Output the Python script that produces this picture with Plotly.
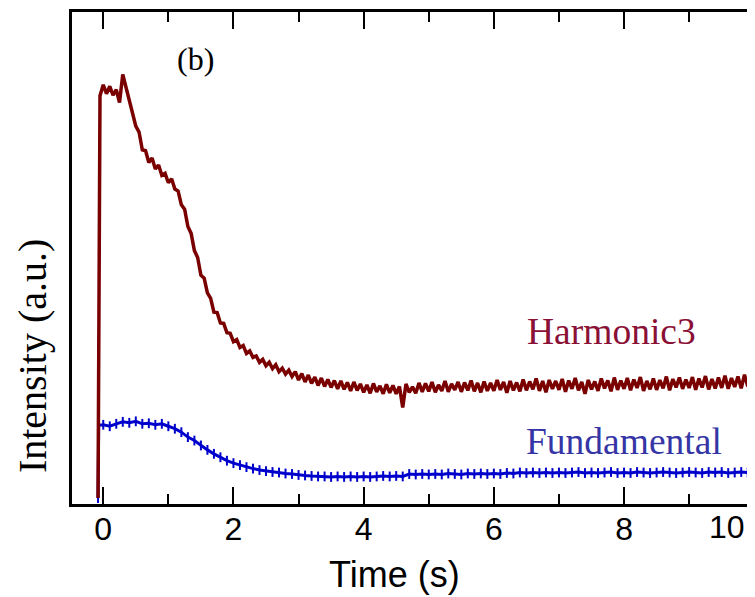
import plotly.graph_objects as go

# ---------------- data ----------------
# Harmonic3: onset point, then samples every 0.05 s from -0.05 to 9.95 s
harm_t = [-0.08,
    -0.05, 0.00, 0.05, 0.10, 0.15, 0.20, 0.25, 0.30, 0.35, 0.40,
    0.45, 0.50, 0.55, 0.60, 0.65, 0.70, 0.75, 0.80, 0.85, 0.90,
    0.95, 1.00, 1.05, 1.10, 1.15, 1.20, 1.25, 1.30, 1.35, 1.40,
    1.45, 1.50, 1.55, 1.60, 1.65, 1.70, 1.75, 1.80, 1.85, 1.90,
    1.95, 2.00, 2.05, 2.10, 2.15, 2.20, 2.25, 2.30, 2.35, 2.40,
    2.45, 2.50, 2.55, 2.60, 2.65, 2.70, 2.75, 2.80, 2.85, 2.90,
    2.95, 3.00, 3.05, 3.10, 3.15, 3.20, 3.25, 3.30, 3.35, 3.40,
    3.45, 3.50, 3.55, 3.60, 3.65, 3.70, 3.75, 3.80, 3.85, 3.90,
    3.95, 4.00, 4.05, 4.10, 4.15, 4.20, 4.25, 4.30, 4.35, 4.40,
    4.45, 4.50, 4.55, 4.60, 4.65, 4.70, 4.75, 4.80, 4.85, 4.90,
    4.95, 5.00, 5.05, 5.10, 5.15, 5.20, 5.25, 5.30, 5.35, 5.40,
    5.45, 5.50, 5.55, 5.60, 5.65, 5.70, 5.75, 5.80, 5.85, 5.90,
    5.95, 6.00, 6.05, 6.10, 6.15, 6.20, 6.25, 6.30, 6.35, 6.40,
    6.45, 6.50, 6.55, 6.60, 6.65, 6.70, 6.75, 6.80, 6.85, 6.90,
    6.95, 7.00, 7.05, 7.10, 7.15, 7.20, 7.25, 7.30, 7.35, 7.40,
    7.45, 7.50, 7.55, 7.60, 7.65, 7.70, 7.75, 7.80, 7.85, 7.90,
    7.95, 8.00, 8.05, 8.10, 8.15, 8.20, 8.25, 8.30, 8.35, 8.40,
    8.45, 8.50, 8.55, 8.60, 8.65, 8.70, 8.75, 8.80, 8.85, 8.90,
    8.95, 9.00, 9.05, 9.10, 9.15, 9.20, 9.25, 9.30, 9.35, 9.40,
    9.45, 9.50, 9.55, 9.60, 9.65, 9.70, 9.75, 9.80, 9.85, 9.90,
    9.95]
harm_y = [1.2,
    83.0, 85.2, 83.4, 84.9, 83.1, 84.2, 81.6, 87.3, 84.6, 82.3,
    79.9, 76.8, 75.6, 72.0, 71.8, 69.4, 70.3, 68.1, 68.9, 66.8,
    67.2, 65.3, 66.1, 64.0, 63.6, 60.8, 59.9, 56.4, 55.0, 51.5,
    50.1, 46.5, 45.9, 42.9, 41.8, 39.0, 38.9, 36.8, 36.7, 34.8,
    34.7, 33.0, 33.4, 31.8, 32.2, 30.6, 31.1, 29.8, 30.1, 28.8,
    29.4, 28.1, 28.8, 27.5, 28.3, 26.9, 27.6, 26.4, 27.2, 25.9,
    26.9, 25.2, 26.5, 24.8, 26.2, 24.5, 25.8, 24.1, 25.6, 23.9,
    25.3, 23.7, 25.1, 23.4, 25.0, 23.3, 24.7, 23.0, 24.8, 23.1,
    24.4, 22.7, 24.2, 22.5, 24.5, 22.8, 24.0, 22.4, 24.3, 22.6,
    24.1, 22.4, 23.9, 19.6, 24.4, 22.7, 23.8, 22.5, 24.6, 22.8,
    24.5, 22.9, 24.8, 22.7, 24.2, 23.0, 25.0, 22.8, 24.4, 23.2,
    24.8, 22.8, 24.7, 23.1, 25.1, 22.9, 24.6, 22.7, 24.9, 23.0,
    24.6, 23.0, 25.2, 23.2, 24.8, 22.6, 25.0, 23.1, 24.7, 22.9,
    25.3, 23.1, 24.9, 23.3, 25.5, 23.0, 25.0, 22.7, 25.2, 23.4,
    25.0, 23.2, 25.4, 22.8, 25.1, 23.4, 25.6, 23.1, 24.8, 22.4,
    25.2, 23.3, 24.9, 23.0, 25.5, 23.5, 25.1, 22.9, 25.7, 23.2,
    25.1, 23.4, 25.6, 23.1, 25.3, 23.6, 25.8, 23.0, 25.0, 23.3,
    25.5, 23.2, 25.2, 23.5, 25.9, 23.1, 25.4, 23.7, 25.7, 23.4,
    25.3, 23.6, 25.8, 23.2, 25.5, 23.7, 26.0, 23.3, 25.4, 23.5,
    25.7, 23.6, 26.1, 23.4, 25.6, 23.8, 25.9, 23.5, 26.3, 23.9,
    25.8]

# Fundamental: onset points, then samples every 0.1 s from 0.0 to 9.9 s
fund_t = [-0.08, -0.07,
    0.0, 0.1, 0.2, 0.3, 0.4, 0.5, 0.6, 0.7, 0.8, 0.9,
    1.0, 1.1, 1.2, 1.3, 1.4, 1.5, 1.6, 1.7, 1.8, 1.9,
    2.0, 2.1, 2.2, 2.3, 2.4, 2.5, 2.6, 2.7, 2.8, 2.9,
    3.0, 3.1, 3.2, 3.3, 3.4, 3.5, 3.6, 3.7, 3.8, 3.9,
    4.0, 4.1, 4.2, 4.3, 4.4, 4.5, 4.6, 4.7, 4.8, 4.9,
    5.0, 5.1, 5.2, 5.3, 5.4, 5.5, 5.6, 5.7, 5.8, 5.9,
    6.0, 6.1, 6.2, 6.3, 6.4, 6.5, 6.6, 6.7, 6.8, 6.9,
    7.0, 7.1, 7.2, 7.3, 7.4, 7.5, 7.6, 7.7, 7.8, 7.9,
    8.0, 8.1, 8.2, 8.3, 8.4, 8.5, 8.6, 8.7, 8.8, 8.9,
    9.0, 9.1, 9.2, 9.3, 9.4, 9.5, 9.6, 9.7, 9.8, 9.9]
fund_y = [1.2, 16.0,
    16.1, 15.8, 16.3, 16.7, 16.5, 16.8, 16.3, 16.4, 16.1, 16.3,
    15.8, 15.3, 14.6, 13.6, 12.9, 11.9, 11.0, 10.2, 9.5, 8.8,
    8.3, 7.9, 7.5, 7.2, 6.9, 6.7, 6.5, 6.4, 6.2, 6.1,
    5.9, 5.8, 5.7, 5.6, 5.6, 5.5, 5.6, 5.5, 5.6, 5.5,
    5.6, 5.5, 5.6, 5.7, 5.6, 5.7, 5.6, 6.1, 6.0, 6.1,
    6.0, 6.1, 6.0, 6.2, 6.1, 6.0, 6.2, 6.1, 6.2, 6.1,
    6.2, 6.1, 6.3, 6.2, 6.4, 6.3, 6.4, 6.3, 6.4, 6.3,
    6.4, 6.3, 6.4, 6.5, 6.3, 6.4, 6.3, 6.4, 6.5, 6.3,
    6.4, 6.3, 6.5, 6.4, 6.3, 6.4, 6.5, 6.4, 6.3, 6.4,
    6.5, 6.4, 6.3, 6.5, 6.4, 6.5, 6.3, 6.4, 6.5, 6.4]

x_tickvals = [0, 2, 4, 6, 8, 10]
x_ticktext = ["0", "2", "4", "6", "8", ""]
x_minorvals = [1, 3, 5, 7, 9]

HARM_COLOR = "#7a0000"
FUND_COLOR = "#0000cc"

fig = go.Figure()
fig.add_trace(go.Scatter(x=fund_t, y=fund_y, mode="lines+markers",
                         line=dict(color=FUND_COLOR, width=3),
                         marker=dict(symbol="line-ns", size=7,
                                     line=dict(color=FUND_COLOR, width=2)),
                         name="Fundamental", showlegend=False))
fig.add_trace(go.Scatter(x=harm_t, y=harm_y, mode="lines",
                         line=dict(color=HARM_COLOR, width=3.5),
                         name="Harmonic3", showlegend=False))

fig.update_layout(
    width=747, height=589,
    margin=dict(l=64, r=3, t=1, b=93),
    paper_bgcolor="white", plot_bgcolor="white",
    font=dict(family="Liberation Sans", color="black"),
    xaxis=dict(
        range=[-0.48, 9.95], showgrid=False, zeroline=False,
        showline=True, linecolor="black", linewidth=2.5, mirror="ticks",
        tickmode="array", tickvals=x_tickvals, ticktext=x_ticktext,
        ticks="inside", ticklen=17, tickwidth=2, tickcolor="black",
        ticklabelstandoff=-5,
        tickfont=dict(family="Liberation Sans", size=32, color="black"),
        minor=dict(tickmode="array", tickvals=x_minorvals, ticks="inside",
                   ticklen=10, tickwidth=2, tickcolor="black", showgrid=False),
    ),
    yaxis=dict(
        range=[0, 100], showgrid=False, zeroline=False,
        showline=True, linecolor="black", linewidth=2.5, mirror=True,
        showticklabels=False, ticks="",
    ),
    annotations=[
        dict(text="Time (s)", x=0.475, xref="paper", y=0, yref="paper",
             xanchor="center", yanchor="middle", yshift=-70, showarrow=False,
             font=dict(family="Liberation Sans", size=36, color="black")),
        dict(text="Intensity (a.u.)", x=-0.0572, xref="paper", y=0.301, yref="paper",
             xanchor="center", yanchor="middle", textangle=-90, showarrow=False,
             borderpad=0,
             font=dict(family="Liberation Serif", size=40, color="black")),
        dict(text="(b)", x=0.182, xref="paper", y=0.905, yref="paper",
             xanchor="center", yanchor="middle", showarrow=False,
             font=dict(family="Liberation Serif", size=32, color="black")),
        dict(text="Harmonic3", x=7.8, xref="x", y=35.1, yref="y",
             showarrow=False, font=dict(family="Liberation Serif", size=37.5, color="#8a1035")),
        dict(text="Fundamental", x=8.0, xref="x", y=12.8, yref="y",
             showarrow=False, font=dict(family="Liberation Serif", size=37.5, color="#3535a5")),
        dict(text="10", x=1, xref="paper", y=0, yref="paper", xshift=-24, yshift=-3,
             xanchor="center", yanchor="top", showarrow=False,
             font=dict(family="Liberation Sans", size=32, color="black")),
    ],
)

fig.write_html("out.html")
